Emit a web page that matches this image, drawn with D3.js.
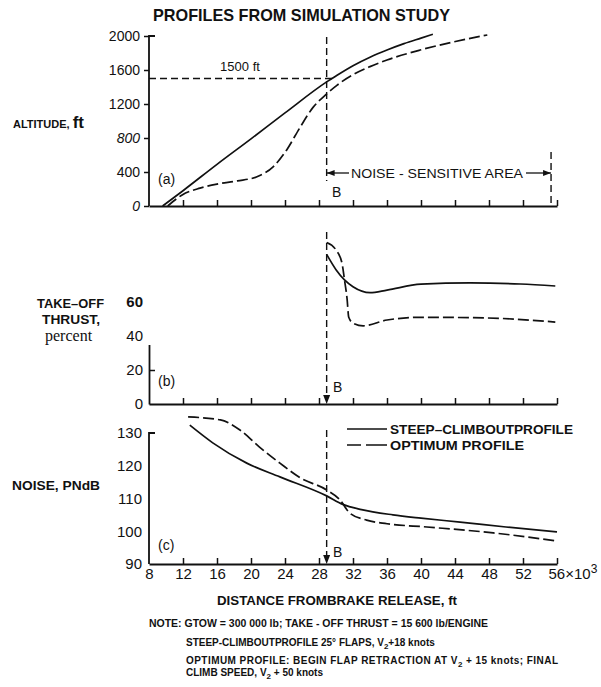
<!DOCTYPE html>
<html>
<head>
<meta charset="utf-8">
<script src="https://cdn.jsdelivr.net/npm/d3@7"></script>
<style>
  body { margin: 0; background: #fff; }
  text { font-family: 'Liberation Sans', Arial, sans-serif; fill: #111; }
</style>
</head>
<body>
<div id="chart"></div>
<script>
// distance from brake release, thousands of ft
const xTicks = [8, 12, 16, 20, 24, 28, 32, 36, 40, 44, 48, 52, 56]
const altTicks = [0, 400, 800, 1200, 1600, 2000]
const thrustTicks = [0, 20, 40, 60]
const noiseTicks = [90, 100, 110, 120, 130]

// point B, start of noise-sensitive area
const pointB = 28.9
const areaEnd = 55.3

// (a) altitude, ft
const steepAlt = [[9.6, 0], [12, 180], [16, 490], [20, 790], [24, 1095], [28.9, 1460], [30, 1530], [32, 1650], [34, 1750], [36, 1835], [38, 1910], [40, 1975], [41.4, 2020]]
const optimumAlt = [[10.2, 0], [11.9, 130], [14, 210], [16, 258], [18.4, 295], [20.7, 345], [22.6, 460], [24.2, 660], [25.8, 930], [27.3, 1160], [28.8, 1310], [30.1, 1420], [32, 1545], [34, 1640], [36, 1718], [39.9, 1835], [43.8, 1930], [47.8, 2012]]

// (b) take-off thrust, percent
const steepThrust = [[28.9, 88], [30, 79], [31, 73], [32, 69], [34, 65.5], [36, 67], [40, 70.5], [45.8, 71.2], [51.7, 70.6], [55.8, 69.4]]
const optimumThrust = [[28.9, 95], [30, 90.6], [30.7, 83], [31, 73], [31.3, 62], [31.5, 51], [32, 47.6], [33.2, 46], [36, 49.4], [40, 51], [47.8, 50.6], [55.8, 48.2]]

// (c) noise, PNdB
const steepNoise = [[12.8, 132.4], [15.5, 127], [19.5, 120.8], [23.4, 116.6], [28.9, 110.8], [30.8, 108.2], [33, 106.6], [36.7, 105], [40, 104], [44.6, 102.8], [50, 101.3], [56, 99.8]]
const optimumNoise = [[12.6, 134.9], [16.4, 134], [18.7, 130.9], [21, 125.7], [23.4, 120.8], [25.8, 116.3], [28.9, 112.6], [30.5, 109.5], [31.6, 105.6], [33.6, 103.4], [36, 102.3], [40.7, 101.3], [48.5, 99.5], [56, 97]]

function draw(el) {
    const dimensions = { width: 601, height: 687 }

    const svg = d3.select(el)
        .append('svg')
        .attr('width', dimensions.width)
        .attr('height', dimensions.height)

    // shared x scale
    const x = d3.scaleLinear().domain([8, 56]).range([149, 557])
    // one y scale per panel
    const yAlt = d3.scaleLinear().domain([0, 2000]).range([206, 36])
    const yThrust = d3.scaleLinear().domain([0, 60]).range([404, 302])
    const yNoise = d3.scaleLinear().domain([90, 130]).range([564, 433])

    const solidDash = null
    const curveDash = '11,4'
    const refDash = '7,4'

    function curve(data, y, dash) {
        svg.append('path')
            .datum(data)
            .attr('fill', 'none')
            .attr('stroke', '#111')
            .attr('stroke-width', 1.7)
            .attr('stroke-dasharray', dash)
            .attr('d', d3.line().x(d => x(d[0])).y(d => y(d[1])).curve(d3.curveMonotoneX))
    }

    function styleAxis(g) {
        g.select('.domain').attr('stroke', '#111').attr('stroke-width', 1.8)
        g.selectAll('.tick line').attr('stroke', '#111').attr('stroke-width', 1.5)
        g.selectAll('.tick text').attr('fill', '#111').style('font-family', 'Liberation Sans, Arial, sans-serif')
    }

    function vDashed(xv, y1, y2) {
        svg.append('line')
            .attr('x1', x(xv)).attr('x2', x(xv))
            .attr('y1', y1).attr('y2', y2)
            .attr('stroke', '#111').attr('stroke-width', 1.4)
            .attr('stroke-dasharray', refDash)
    }

    function arrowDown(xv, yTip) {
        const cx = x(xv)
        svg.append('path')
            .attr('d', `M${cx - 3.5},${yTip - 9}L${cx + 3.5},${yTip - 9}L${cx},${yTip}Z`)
            .attr('fill', '#111')
    }

    function label(txt, px, py, size, opts = {}) {
        const t = svg.append('text')
            .attr('x', px).attr('y', py)
            .style('font-size', size + 'px')
            .style('font-weight', opts.bold ? 'bold' : 'normal')
            .attr('text-anchor', opts.anchor || 'start')
            .text(txt)
        if (opts.len) t.attr('textLength', opts.len).attr('lengthAdjust', 'spacingAndGlyphs')
        if (opts.family) t.style('font-family', opts.family)
        if (opts.italic) t.style('font-style', 'italic')
        if (opts.spacing) t.style('letter-spacing', opts.spacing + 'px')
        return t
    }

    // title
    label('PROFILES FROM SIMULATION STUDY', 153, 21, 17, { bold: true, len: 297 })

    // ---------- panel (a) ----------
    const axA = svg.append('g').attr('transform', `translate(0,${yAlt(0)})`)
        .call(d3.axisBottom(x).tickValues(xTicks.slice(1)).tickSize(-6).tickSizeOuter(0).tickFormat(''))
    styleAxis(axA)

    const ayA = svg.append('g').attr('transform', `translate(${x(8)},0)`)
        .call(d3.axisLeft(yAlt).tickValues(altTicks).tickFormat(d3.format('d')).tickSize(5).tickPadding(4).tickSizeOuter(0))
    styleAxis(ayA)
    ayA.selectAll('.tick text').style('font-size', '14px')
        .style('font-style', d => (d === 800 || d === 0) ? 'italic' : 'normal')
    ayA.select('.domain').attr('d', `M0,${yAlt(0)}V${yAlt(2000)}h6`)

    // 1500 ft reference
    svg.append('line')
        .attr('x1', x(8)).attr('x2', x(29.6))
        .attr('y1', yAlt(1500)).attr('y2', yAlt(1500))
        .attr('stroke', '#111').attr('stroke-width', 1.4)
        .attr('stroke-dasharray', refDash)
    label('1500 ft', 240, 71, 13, { anchor: 'middle' })

    vDashed(pointB, 37, 181)
    vDashed(areaEnd, 152, 205)
    label('B', 332, 197, 14)

    // noise-sensitive area arrow
    const arrowY = 173
    svg.append('line').attr('x1', x(pointB)).attr('x2', 349).attr('y1', arrowY).attr('y2', arrowY)
        .attr('stroke', '#111').attr('stroke-width', 1.3)
    svg.append('line').attr('x1', 526).attr('x2', x(areaEnd)).attr('y1', arrowY).attr('y2', arrowY)
        .attr('stroke', '#111').attr('stroke-width', 1.3)
    svg.append('path').attr('d', `M${x(pointB)},${arrowY}l8,-3v6Z`).attr('fill', '#111')
    svg.append('path').attr('d', `M${x(areaEnd)},${arrowY}l-8,-3v6Z`).attr('fill', '#111')
    label('NOISE - SENSITIVE  AREA', 437, 178, 13, { anchor: 'middle', len: 172 })

    label('(a)', 158, 184, 14)

    curve(steepAlt, yAlt, solidDash)
    curve(optimumAlt, yAlt, curveDash)

    // ---------- panel (b) ----------
    const axB = svg.append('g').attr('transform', `translate(0,${yThrust(0)})`)
        .call(d3.axisBottom(x).tickValues(xTicks.slice(1)).tickSize(-6).tickSizeOuter(0).tickFormat(''))
    styleAxis(axB)

    const yThrustAxis = yThrust.copy().domain([0, 35]).range([yThrust(0), yThrust(35)])
    const ayB = svg.append('g').attr('transform', `translate(${x(8)},0)`)
        .call(d3.axisLeft(yThrustAxis).tickValues(thrustTicks).tickSize(-6).tickPadding(6).tickSizeOuter(0))
    styleAxis(ayB)
    ayB.selectAll('.tick line').attr('display', d => (d === 20) ? null : 'none')
    ayB.selectAll('.tick text').style('font-size', '15px')
        .style('font-weight', d => d === 60 ? 'bold' : 'normal')

    vDashed(pointB, 232, 396)
    arrowDown(pointB, 404)
    label('B', 333, 392, 14)
    label('(b)', 158, 386, 14)

    curve(steepThrust, yThrust, solidDash)
    curve(optimumThrust, yThrust, curveDash)

    // ---------- panel (c) ----------
    const axC = svg.append('g').attr('transform', `translate(0,${yNoise(90)})`)
        .call(d3.axisBottom(x).tickValues(xTicks).tickSize(-6).tickPadding(4).tickSizeOuter(0))
    styleAxis(axC)
    axC.selectAll('.tick line').attr('display', d => d === 8 ? 'none' : null)
    axC.selectAll('.tick text').style('font-size', '15px')
    // last label carries the ×10³ multiplier
    const last = axC.selectAll('.tick text').filter(d => d === 56)
    last.text('56×10').attr('text-anchor', 'start').attr('x', -9)
    last.append('tspan').attr('dy', '-0.45em').style('font-size', '12px').text('3')

    const ayC = svg.append('g').attr('transform', `translate(${x(8)},0)`)
        .call(d3.axisLeft(yNoise).tickValues(noiseTicks).tickSize(0).tickPadding(7).tickSizeOuter(0))
    styleAxis(ayC)
    ayC.selectAll('.tick text').style('font-size', '15px')
    ayC.select('.domain').attr('d', `M0,${yNoise(90)}V${yNoise(130)}h6`)

    vDashed(pointB, 430, 556)
    arrowDown(pointB, 564)
    label('B', 333, 557, 14)
    label('(c)', 158, 550, 14)

    curve(steepNoise, yNoise, solidDash)
    curve(optimumNoise, yNoise, curveDash)

    // legend
    const legend = svg.append('g')
    legend.append('line').attr('x1', 347).attr('x2', 387).attr('y1', 429).attr('y2', 429)
        .attr('stroke', '#111').attr('stroke-width', 1.5)
    legend.append('line').attr('x1', 347).attr('x2', 387).attr('y1', 445).attr('y2', 445)
        .attr('stroke', '#111').attr('stroke-width', 1.5).attr('stroke-dasharray', '14,5,21')
    label('STEEP–CLIMBOUTPROFILE', 390, 434, 12, { bold: true, len: 183 })
    label('OPTIMUM  PROFILE', 390, 450, 12, { bold: true, len: 134 })

    // y-axis titles
    const alt = label('ALTITUDE, ', 13, 128, 11, { bold: true })
    alt.append('tspan').style('font-size', '17px').text('ft')
    label('TAKE–OFF', 37, 308, 13, { bold: true, len: 67 })
    label('THRUST,', 42, 324, 13, { bold: true, len: 58 })
    label('percent', 45, 341, 16, { family: 'Liberation Serif, serif' })
    label('NOISE, PNdB', 12, 490, 12, { bold: true, len: 88 })

    // x-axis title
    label('DISTANCE FROMBRAKE RELEASE, ft', 217, 605, 13, { bold: true, len: 240 })

    // notes
    label('NOTE: GTOW = 300 000 lb; TAKE - OFF  THRUST = 15 600 lb/ENGINE', 149, 627, 10, { bold: true, len: 339 })
    const n2 = label('STEEP-CLIMBOUTPROFILE 25° FLAPS, V', 186, 646, 10, { bold: true })
    n2.append('tspan').attr('dy', 3).style('font-size', '8px').text('2')
    n2.append('tspan').attr('dy', -3).text('+18 knots')
    const n3 = label('OPTIMUM  PROFILE: BEGIN FLAP  RETRACTION AT  V', 186, 664, 10, { bold: true, spacing: 0.45 })
    n3.append('tspan').attr('dy', 3).style('font-size', '8px').text('2')
    n3.append('tspan').attr('dy', -3).text(' + 15 knots;  FINAL')
    const n4 = label('CLIMB SPEED, V', 186, 676, 10, { bold: true })
    n4.append('tspan').attr('dy', 3).style('font-size', '8px').text('2')
    n4.append('tspan').attr('dy', -3).text(' + 50 knots')
}

draw('#chart')
</script>
</body>
</html>
